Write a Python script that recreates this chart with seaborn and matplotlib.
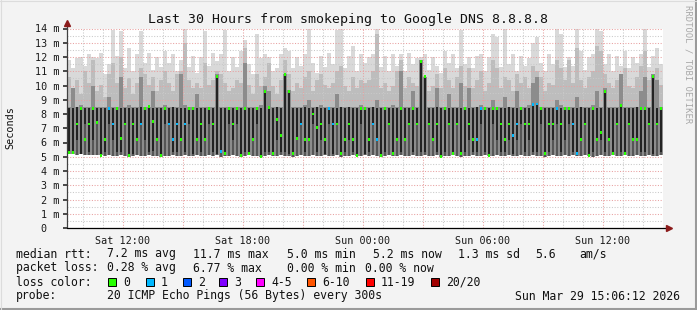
import matplotlib
matplotlib.use("Agg")
import matplotlib.pyplot as plt
import numpy as np
import pandas as pd
import seaborn as sns
from matplotlib.patches import Rectangle
from matplotlib.lines import Line2D

# ---------------- data (ms) ----------------
start_hour = 9.2    # Sat 09:12, hours since Sat 00:00
step_hours = 0.2    # 12-minute bins

lo_ms = [
 5.2, 5.2, 5.15, 5.2, 5.15, 5.1, 5.15, 5.1, 5.1, 5.05, 5.1, 5.05, 5.05, 5.1, 5.05, 5.0, 5.05, 5.1, 5.05, 5.05, 5.1, 5.05, 5.05, 5.0, 5.05,
 5.05, 5.1, 5.05, 5.05, 5.1, 5.05, 5.05, 5.1, 5.05, 5.05, 5.1, 5.05, 5.1, 5.0, 5.05, 5.05, 5.1, 5.05, 5.0, 5.05, 5.1, 5.05, 5.05, 5.0, 5.05,
 5.1, 5.05, 5.05, 5.1, 5.05, 5.05, 5.0, 5.05, 5.1, 5.05, 5.05, 5.1, 5.05, 5.05, 5.1, 5.05, 5.05, 5.1, 5.0, 5.05, 5.05, 5.1, 5.05, 5.05, 5.1,
 5.05, 5.1, 5.05, 5.0, 5.05, 5.1, 5.05, 5.05, 5.1, 5.05, 5.05, 5.1, 5.05, 5.05, 5.1, 5.05, 5.05, 5.1, 4.95, 5.05, 5.05, 5.1, 5.05, 5.0, 5.05,
 5.05, 5.1, 5.05, 5.05, 5.1, 5.05, 5.05, 5.1, 5.05, 5.05, 5.1, 5.05, 5.05, 5.1, 5.05, 5.05, 5.1, 5.05, 5.05, 5.0, 5.05, 5.1, 5.05, 5.05, 5.1,
 5.05, 5.1, 5.05, 5.05, 5.1, 5.05, 5.0, 5.05, 5.1, 5.05, 5.05, 5.1, 5.05, 5.05, 5.1, 5.05, 5.05, 5.1, 5.05, 5.05, 5.1, 5.05, 5.05, 5.1]

q1_ms = [
 5.2, 5.3, 6.2, 5.2, 7.3, 5.3, 6.2, 7.3, 5.1, 5.3, 7.3, 6.2, 5.3, 5.3, 7.3, 5.1, 5.2, 6.2, 7.3, 6.2, 5.3, 5.4, 6.2, 5.1, 7.3,
 7.3, 5.3, 5.3, 6.2, 5.3, 7.3, 5.2, 6.2, 5.3, 6.2, 7.3, 5.3, 5.2, 5.4, 5.2, 7.3, 6.2, 7.3, 5.1, 5.3, 5.2, 6.2, 7.3, 5.0, 5.3,
 5.3, 5.2, 6.2, 5.3, 5.3, 5.2, 5.2, 6.2, 7.3, 5.3, 6.2, 7.3, 5.3, 6.2, 5.2, 7.3, 5.2, 7.3, 5.2, 5.3, 6.2, 5.3, 5.1, 7.3, 5.2,
 5.3, 7.3, 6.2, 5.1, 5.3, 7.3, 5.2, 6.2, 5.3, 6.2, 7.3, 5.3, 7.3, 5.3, 5.3, 7.3, 6.2, 5.3, 5.0, 5.3, 7.3, 5.2, 7.3, 5.2, 5.3,
 6.2, 5.3, 5.3, 7.3, 5.3, 5.1, 7.3, 6.2, 5.3, 5.3, 6.2, 5.2, 6.2, 7.3, 5.3, 6.2, 5.3, 5.3, 7.3, 5.1, 5.3, 6.2, 7.3, 5.3, 6.2,
 7.3, 5.3, 5.2, 6.2, 7.3, 5.1, 5.3, 6.2, 6.2, 5.3, 6.2, 5.2, 7.3, 5.3, 5.2, 7.3, 6.2, 6.2, 5.3, 5.3, 7.3, 5.2, 7.3, 5.3]

q3_ms = [
 8.4, 8.4, 8.5, 8.5, 8.4, 8.4, 8.5, 8.4, 8.4, 8.4, 8.5, 8.4, 8.5, 8.4, 8.4, 8.4, 8.4, 8.4, 8.5, 8.5, 8.6, 8.4, 8.4, 8.4, 8.5,
 8.4, 8.5, 8.4, 8.4, 8.4, 8.5, 8.5, 8.4, 8.4, 8.4, 8.5, 8.4, 10.7, 8.4, 8.4, 8.5, 8.4, 8.5, 8.4, 8.5, 8.4, 8.4, 8.5, 8.4, 9.7,
 8.4, 8.4, 8.5, 8.4, 10.8, 9.7, 8.4, 8.4, 8.4, 8.5, 8.4, 8.4, 8.5, 8.4, 8.4, 8.5, 8.4, 8.4, 8.5, 8.4, 8.5, 8.4, 8.4, 8.5, 8.4,
 8.4, 8.5, 8.4, 8.4, 8.5, 8.4, 8.4, 8.4, 8.5, 8.4, 8.4, 8.5, 8.4, 11.7, 10.6, 8.4, 8.4, 8.5, 8.4, 8.5, 8.4, 8.4, 8.4, 8.4, 8.5,
 8.4, 8.4, 8.5, 8.5, 8.4, 8.4, 8.5, 8.4, 8.4, 8.4, 8.5, 8.4, 8.4, 8.5, 8.4, 8.4, 8.8, 8.8, 8.5, 8.4, 8.4, 8.4, 8.5, 8.4, 8.5,
 8.4, 8.4, 8.4, 8.5, 8.4, 8.4, 8.5, 8.4, 8.4, 9.7, 8.4, 8.4, 8.4, 8.6, 8.4, 8.4, 8.4, 8.5, 8.5, 8.4, 8.4, 10.7, 8.4, 8.5]

p75_ms = [
 8.5, 9.8, 8.5, 8.6, 8.5, 8.5, 10.0, 8.5, 8.5, 8.5, 9.2, 8.5, 8.5, 10.6, 8.5, 8.6, 8.5, 8.5, 10.6, 8.5, 8.5, 9.6, 8.5, 8.5, 8.6,
 8.5, 8.5, 8.5, 10.8, 8.6, 8.5, 8.5, 9.4, 8.5, 8.5, 8.5, 8.5, 10.8, 8.5, 8.5, 8.5, 8.5, 8.5, 8.5, 11.6, 8.5, 8.5, 8.5, 8.6, 10.0,
 9.6, 8.5, 8.5, 8.5, 10.8, 9.7, 8.5, 8.5, 8.5, 8.6, 9.0, 8.5, 8.5, 8.6, 8.5, 8.5, 8.5, 9.4, 8.5, 8.5, 8.5, 8.5, 8.5, 8.6, 8.5,
 8.5, 8.5, 9.0, 8.5, 8.5, 8.5, 8.6, 8.5, 11.0, 8.5, 8.5, 9.6, 8.5, 11.8, 10.6, 8.5, 8.5, 9.8, 8.5, 8.5, 9.4, 8.5, 8.5, 10.2, 8.5,
 9.8, 8.5, 8.5, 8.6, 8.5, 8.5, 9.0, 8.5, 8.5, 9.2, 8.5, 8.5, 9.6, 8.5, 8.5, 8.6, 10.2, 10.6, 8.5, 8.5, 8.5, 8.5, 9.0, 8.6, 8.5,
 8.5, 8.5, 9.2, 8.5, 8.5, 8.5, 8.6, 9.6, 8.5, 9.8, 8.5, 8.5, 8.5, 10.8, 8.5, 8.5, 8.5, 8.5, 9.6, 10.6, 8.5, 10.8, 10.4, 8.5]

p90_ms = [
 10.6, 9.8, 10.4, 9.4, 11.0, 10.2, 11.8, 9.6, 10.0, 9.2, 10.8, 11.6, 10.2, 12.0, 9.8, 10.5, 9.4, 10.2, 11.2, 10.8, 10.0, 10.6, 9.6, 10.4, 11.0,
 10.2, 9.6, 10.8, 11.0, 13.0, 10.4, 9.8, 10.2, 9.8, 11.6, 10.0, 10.4, 11.0, 10.8, 10.2, 9.6, 9.8, 10.4, 10.2, 12.6, 10.0, 9.4, 10.8, 10.0, 10.6,
 11.6, 10.0, 9.4, 10.4, 11.8, 10.8, 9.6, 10.2, 9.8, 10.6, 11.0, 9.6, 10.4, 10.8, 10.0, 9.8, 10.2, 11.0, 11.4, 10.0, 9.6, 10.6, 9.8, 10.4, 10.2,
 10.4, 11.0, 13.6, 9.8, 10.2, 9.6, 10.0, 11.0, 11.8, 9.8, 10.6, 10.2, 10.0, 11.6, 10.4, 9.6, 10.0, 10.8, 9.8, 11.2, 10.4, 9.8, 10.6, 11.4, 10.0,
 11.2, 9.8, 10.4, 11.0, 9.6, 10.2, 11.8, 11.2, 9.8, 10.6, 10.4, 9.6, 10.8, 10.2, 10.6, 9.8, 11.4, 11.0, 10.6, 9.6, 10.2, 10.0, 11.8, 11.2, 10.4,
 11.8, 10.2, 12.6, 10.4, 9.8, 10.6, 11.0, 12.8, 12.4, 10.8, 10.2, 9.8, 10.4, 10.6, 11.2, 10.0, 9.8, 10.6, 11.4, 12.4, 10.4, 10.8, 11.2, 10.0]

top_ms = [
 11.8, 11.2, 11.9, 12.0, 11.4, 12.2, 12.0, 11.9, 12.3, 10.8, 11.5, 13.9, 12.1, 13.8, 11.2, 12.6, 11.0, 12.2, 13.8, 11.6, 12.3, 11.1, 12.0, 11.3, 12.4,
 11.6, 12.2, 11.0, 11.8, 14.0, 11.3, 12.1, 10.9, 12.0, 13.8, 11.4, 12.3, 11.7, 12.2, 13.9, 11.0, 12.0, 11.3, 12.4, 13.2, 11.5, 10.8, 13.6, 11.9, 12.2,
 12.0, 11.0, 11.2, 12.2, 12.6, 12.4, 11.2, 12.0, 11.4, 12.2, 14.0, 11.6, 10.9, 12.1, 11.3, 12.3, 11.5, 13.9, 14.0, 11.2, 12.1, 12.8, 11.0, 12.2, 11.6,
 12.0, 12.2, 14.0, 11.3, 12.1, 11.0, 12.2, 11.4, 12.2, 11.0, 12.3, 11.5, 11.9, 12.0, 12.2, 11.1, 12.0, 11.4, 10.9, 12.4, 11.6, 12.2, 11.2, 13.9, 11.5,
 12.0, 11.2, 12.1, 12.2, 11.0, 12.0, 13.6, 13.4, 11.3, 14.0, 11.5, 12.2, 11.0, 12.1, 11.4, 11.9, 13.0, 13.4, 11.6, 11.0, 12.2, 11.5, 14.0, 13.6, 11.3,
 12.0, 11.4, 14.0, 12.4, 11.1, 12.0, 12.2, 14.0, 13.8, 11.5, 12.2, 11.0, 12.1, 11.4, 12.4, 11.2, 12.0, 11.6, 12.2, 14.0, 11.3, 12.1, 12.6, 11.5]

median_ms = [
 5.3, 5.3, 7.3, 8.4, 6.2, 7.3, 8.4, 7.4, 5.1, 6.2, 8.4, 7.3, 8.4, 6.3, 7.3, 5.1, 7.3, 6.2, 7.3, 8.4, 8.5, 7.5, 6.2, 5.1, 8.4,
 7.3, 6.2, 7.3, 6.2, 7.3, 8.4, 8.4, 6.2, 7.3, 6.2, 8.4, 7.3, 10.65, 5.4, 5.2, 8.4, 7.3, 8.4, 5.1, 8.4, 5.2, 6.2, 8.4, 5.0, 9.6,
 8.45, 5.2, 7.6, 6.5, 10.75, 9.6, 5.2, 6.3, 7.3, 6.2, 6.2, 8.0, 7.05, 7.3, 6.2, 8.4, 7.3, 7.3, 5.2, 6.2, 7.3, 6.2, 5.1, 8.4, 8.4,
 6.2, 7.3, 6.2, 5.1, 8.4, 7.3, 5.2, 6.2, 8.4, 6.2, 7.3, 8.4, 7.3, 11.7, 10.6, 7.3, 6.2, 7.3, 5.0, 8.4, 7.3, 5.2, 7.3, 5.2, 8.4,
 7.3, 6.2, 6.2, 8.4, 8.4, 5.1, 8.4, 8.4, 7.3, 6.2, 7.3, 6.5, 7.3, 8.4, 7.3, 7.3, 8.65, 8.7, 8.4, 5.2, 7.3, 7.3, 8.4, 7.3, 8.4,
 8.4, 7.3, 5.2, 6.2, 7.3, 5.1, 8.4, 6.2, 6.7, 9.6, 6.2, 5.2, 7.3, 8.6, 5.2, 7.3, 6.2, 6.2, 8.4, 8.4, 7.3, 10.65, 7.3, 8.4]

lost_pings = [
 0,0,0,0,0,0,0,0,0,0,1,1,0,0,0,0,0,0,1,0,0,0,0,0,0,
 1,1,1,0,1,0,0,0,0,0,0,0,0,1,0,0,0,0,0,0,0,0,0,0,0,
 0,0,0,0,0,0,0,0,1,0,0,0,0,0,0,1,1,0,0,0,0,0,0,0,0,
 0,1,1,0,0,0,0,0,0,0,0,0,0,0,0,0,0,0,0,0,0,0,0,0,0,
 0,0,1,1,0,0,0,0,0,0,0,1,1,0,0,0,1,1,0,0,0,0,1,0,0,
 0,1,1,0,0,0,0,0,0,0,0,0,0,0,0,0,0,0,0,0,0,0,0,0]

x_tick_hours = [12, 15, 18, 21, 24, 27, 30, 33, 36]
x_tick_labels = ["Sat 12:00", "", "Sat 18:00", "", "Sun 00:00", "", "Sun 06:00", "", "Sun 12:00"]
y_ticks = list(range(0, 15))
y_tick_labels = ["0  "] + [f"{v} m" for v in range(1, 15)]

loss_names = ["0", "1", "2", "3", "4-5", "6-10", "11-19", "20/20"]
loss_colors = ["#26ff00", "#00b8ff", "#0059ff", "#7e00ff", "#ff00ff", "#ff5500", "#ff0000", "#a10000"]

# ---------------- figure ----------------
sns.set_theme(style="white")
plt.rcParams['font.family'] = ['DejaVu Sans Mono', 'DejaVu Sans']

W, H = 697, 310
fig = plt.figure(figsize=(W / 100, H / 100), dpi=100, facecolor="#f3f3f3")

def fx(x):
    return x / W

def fy(y):
    return 1 - y / H

ax = fig.add_axes([fx(67), fy(228), (663 - 67) / W, (228 - 28.5) / H])
ax.set_facecolor("white")

n = len(median_ms)
df = pd.DataFrame({
    "t": start_hour + step_hours * (np.arange(n) + 0.5),
    "lo": lo_ms, "q1": q1_ms, "q3": q3_ms, "p75": p75_ms,
    "p90": p90_ms, "top": top_ms, "median": median_ms,
    "loss": [loss_names[k] for k in lost_pings],
})

def band(lower, upper, color, width, z):
    ax.bar(df["t"], df[upper] - df[lower], bottom=df[lower], width=width,
           color=color, linewidth=0, zorder=z)

band("lo", "top", "#d9d9d9", step_hours, 0.3)
band("lo", "p90", "#bdbdbd", step_hours, 0.4)
band("lo", "p75", "#8c8c8c", step_hours, 1.0)
band("lo", "q3", "#555555", step_hours * 0.72, 1.1)
band("q1", "q3", "#232323", step_hours * 0.42, 1.2)

sns.scatterplot(data=df, x="t", y="median", hue="loss",
                palette=dict(zip(loss_names, loss_colors)),
                marker="s", s=4.5, linewidth=0, legend=False, ax=ax, zorder=5)

ax.set_xlim(start_hour, start_hour + step_hours * n)
ax.set_ylim(0, 14)
ax.set_xticks(x_tick_hours)
ax.set_xticklabels(x_tick_labels)
ax.set_xticks([h for h in range(10, 39) if h % 3 != 0], minor=True)
ax.set_yticks(y_ticks)
ax.set_yticklabels(y_tick_labels)
ax.set_yticks([v + 0.5 for v in range(0, 14)], minor=True)
ax.set_xlabel("")
ax.set_ylabel("")

ax.set_axisbelow(True)
ax.xaxis.set_zorder(0.8)
ax.yaxis.set_zorder(0.8)
ax.grid(which="major", color="#e8a0a0", linestyle=(0, (1, 1.6)), linewidth=0.75)
ax.grid(which="minor", color="#c9c9c9", linestyle=(0, (1, 1.6)), linewidth=0.75)

ax.tick_params(axis="x", which="major", length=2.5, color="#e8a0a0", pad=3,
               labelsize=7.3, labelcolor="#1a1a1a")
ax.tick_params(axis="x", which="minor", length=2, color="#c9c9c9")
ax.tick_params(axis="y", which="major", length=3, color="#333333", pad=2.5,
               labelsize=7.3, labelcolor="#1a1a1a", left=True)
ax.tick_params(axis="y", which="minor", length=0)

for s in ["top", "right", "left", "bottom"]:
    ax.spines[s].set_visible(False)

# axes lines with arrows (figure pixel coordinates)
fig.add_artist(Line2D([fx(67), fx(67)], [fy(228), fy(24)], color="#404040", lw=0.9))
fig.add_artist(Line2D([fx(67), fx(668)], [fy(228), fy(228)], color="#000000", lw=0.9))
fig.add_artist(Line2D([fx(67)], [fy(23)], marker="^", markersize=4.5, color="#8b1a1a", lw=0))
fig.add_artist(Line2D([fx(669)], [fy(228)], marker=">", markersize=4.5, color="#8b1a1a", lw=0))

# title, axis label, watermark
fig.text(fx(348), fy(19), "Last 30 Hours from smokeping to Google DNS 8.8.8.8",
         ha="center", va="center", fontsize=9.5, color="#111111")
fig.text(fx(10), fy(128), "Seconds", rotation=90, ha="center", va="center",
         fontsize=7.3, color="#111111")
fig.text(fx(688), fy(5), "RRDTOOL / TOBI OETIKER", rotation=270, ha="center", va="top",
         fontsize=6.4, color="#a8a8a8")

# legend block
lf = 8.3
lc = "#111111"
def t(x, y, s, **kw):
    fig.text(fx(x), fy(y), s, ha=kw.pop("ha", "left"), va="center", fontsize=lf, color=lc, **kw)

t(16, 254, "median rtt:")
t(107, 254, "7.2 ms avg")
t(193, 254, "11.7 ms max")
t(287, 254, "5.0 ms min")
t(373, 254, "5.2 ms now")
t(458, 254, "1.3 ms sd")
t(535, 254, "5.6")
t(579, 254, "am/s")

t(16, 268, "packet loss:")
t(107, 268, "0.28 % avg")
t(193, 268, "6.77 % max")
t(287, 268, "0.00 % min")
t(365, 268, "0.00 % now")

t(16, 282, "loss color:")
box_x = [108, 146, 183, 219, 256, 307, 366, 431]
for bx, name, col in zip(box_x, loss_names, loss_colors):
    fig.add_artist(Rectangle((fx(bx), fy(286)), 8 / W, 8 / H, facecolor=col,
                             edgecolor="#000000", linewidth=0.7))
    t(bx + 15, 282, name)

t(16, 296, "probe:")
t(107, 296, "20 ICMP Echo Pings (56 Bytes) every 300s")
t(680, 296, "Sun Mar 29 15:06:12 2026", ha="right")

# outer frame
fig.add_artist(Line2D([0, 1], [fy(309), fy(309)], color="#9a9a9a", lw=1.5))
fig.add_artist(Line2D([fx(696), fx(696)], [0, 1], color="#9a9a9a", lw=1.5))
fig.add_artist(Line2D([0, 1], [fy(0.5), fy(0.5)], color="#dcdcdc", lw=0.8))
fig.add_artist(Line2D([fx(0.5), fx(0.5)], [0, 1], color="#dcdcdc", lw=0.8))

fig.savefig("out.png", dpi=100, facecolor=fig.get_facecolor())
